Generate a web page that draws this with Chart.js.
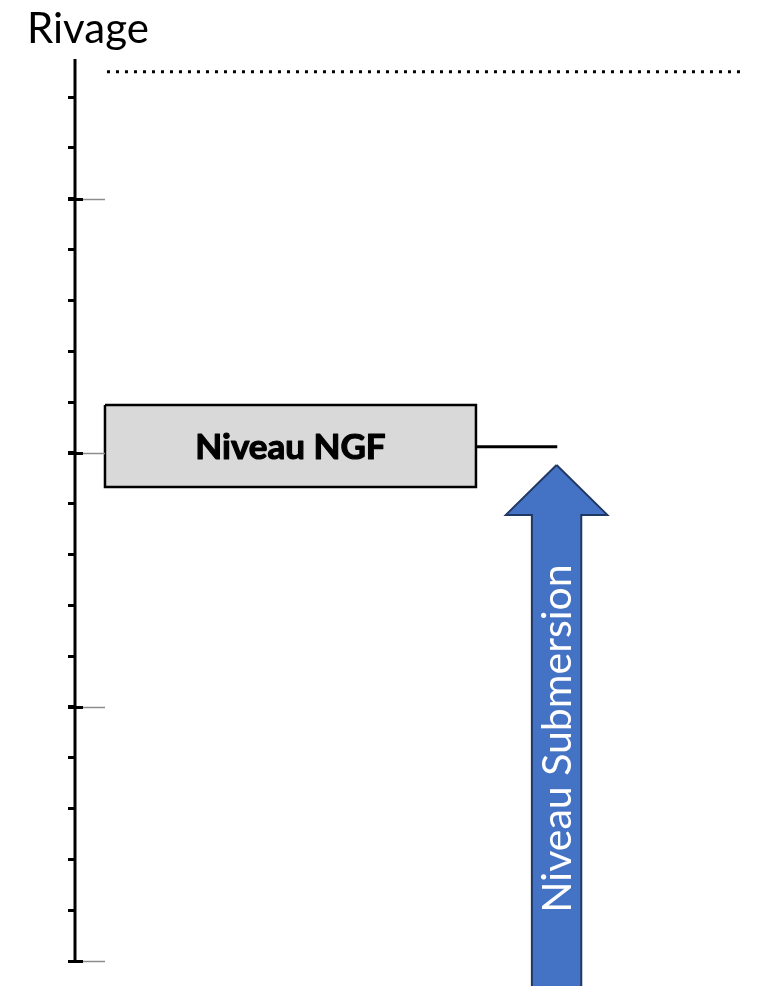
<!DOCTYPE html>
<html>
<head>
<meta charset="utf-8">
<script src="https://cdn.jsdelivr.net/npm/chart.js@4"></script>
<style>
  html, body { margin: 0; padding: 0; background: #ffffff; }
  #wrap { width: 761px; height: 986px; position: relative; }
</style>
</head>
<body>
<div id="wrap"><canvas id="c"></canvas></div>
<script>
// ---- data (axis units) ----
const yRange = [-0.49, 17.75];      // vertical level axis (view range)
const yAxisSpan = [0, 17.75];       // drawn part of the level axis
const xRange = [0, 100];            // horizontal schematic axis
const minorStep = 1;                // minor tick every unit
const majorEvery = 5;               // major tick every 5 units

const rivageX = [4.66, 97.67];      // dotted shore line
const rivageY = [17.5, 17.5];

const ngfBoxX = [4.37, 58.45, 58.45, 4.37, 4.37];
const ngfBoxY = [10.94, 10.94, 9.33, 9.33, 10.94];
const ngfLineX = [58.45, 70.3];
const ngfLineY = [10.12, 10.12];

const arrowX = [70.2, 77.6, 73.8, 73.8, 66.6, 66.6, 62.8, 70.2];
const arrowY = [9.76, 8.78, 8.78, -0.8, -0.8, 8.78, 8.78, 9.76];

const labels = {
  title: 'Rivage',
  box: 'Niveau NGF',
  arrow: 'Niveau Submersion'
};
const arrowLabelY = 4.38;

const pts = (xs, ys) => xs.map((x, i) => ({ x: x, y: ys[i] }));

const labelPlugin = {
  id: 'labelsAndMajorTicks',
  beforeDatasetsDraw(chart) {
    const ctx = chart.ctx;
    const ys = chart.scales.y;
    const axisX = chart.chartArea.left;
    ctx.save();
    ctx.strokeStyle = '#000000';
    ctx.lineWidth = 3;
    ctx.beginPath();
    ctx.moveTo(axisX, ys.getPixelForValue(yAxisSpan[1]));
    ctx.lineTo(axisX, ys.getPixelForValue(yAxisSpan[0]) + 1.5);
    ctx.stroke();
    ctx.restore();
  },
  afterDraw(chart) {
    const ctx = chart.ctx;
    const xs = chart.scales.x, ys = chart.scales.y;
    const axisX = chart.chartArea.left;
    ctx.save();
    // major ticks: black cross + grey extension to the box edge
    ys.ticks.forEach(t => {
      if (Math.round(t.value) % majorEvery === 0) {
        const py = Math.round(ys.getPixelForValue(t.value)) + 0.5;
        ctx.strokeStyle = '#8c8c8c';
        ctx.lineWidth = 1.5;
        ctx.beginPath();
        ctx.moveTo(axisX + 8, py);
        ctx.lineTo(xs.getPixelForValue(ngfBoxX[0]), py);
        ctx.stroke();
        ctx.strokeStyle = '#000000';
        ctx.lineWidth = 3;
        ctx.beginPath();
        ctx.moveTo(axisX - 7, py);
        ctx.lineTo(axisX + 8, py);
        ctx.stroke();
      }
    });
    // box label
    const bx = (xs.getPixelForValue(ngfBoxX[0]) + xs.getPixelForValue(ngfBoxX[1])) / 2;
    const by = (ys.getPixelForValue(ngfBoxY[0]) + ys.getPixelForValue(ngfBoxY[2])) / 2;
    const bSize = 35;
    ctx.font = 'bold ' + bSize + 'px Lato';
    ctx.fillStyle = '#000000';
    ctx.strokeStyle = '#000000';
    ctx.lineWidth = 1.2;
    ctx.lineJoin = 'round';
    ctx.textAlign = 'center';
    ctx.textBaseline = 'alphabetic';
    ctx.fillText(labels.box, bx, by + 0.36 * bSize);
    ctx.strokeText(labels.box, bx, by + 0.36 * bSize);
    // arrow label (rotated)
    const ax = xs.getPixelForValue(arrowX[0]);
    const ay = ys.getPixelForValue(arrowLabelY);
    const aSize = 41;
    ctx.translate(ax, ay);
    ctx.rotate(-Math.PI / 2);
    ctx.font = aSize + 'px Lato';
    ctx.fillStyle = '#ffffff';
    ctx.textAlign = 'center';
    ctx.fillText(labels.arrow, 0, 0.36 * aSize);
    ctx.restore();
  }
};

new Chart(document.getElementById('c'), {
  type: 'scatter',
  data: {
    datasets: [
      {
        data: pts(arrowX, arrowY),
        showLine: true, fill: 'shape',
        backgroundColor: '#4472c4', borderColor: '#203864', borderWidth: 2,
        borderJoinStyle: 'miter', pointRadius: 0, tension: 0, clip: false
      },
      {
        data: pts(ngfBoxX, ngfBoxY),
        showLine: true, fill: 'shape',
        backgroundColor: '#d9d9d9', borderColor: '#000000', borderWidth: 2.5,
        borderJoinStyle: 'miter', pointRadius: 0, tension: 0, clip: false
      },
      {
        data: pts(ngfLineX, ngfLineY),
        showLine: true, borderColor: '#000000', borderWidth: 3,
        pointRadius: 0, clip: false
      },
      {
        data: pts(rivageX, rivageY),
        showLine: true, borderColor: '#000000', borderWidth: 3,
        borderDash: [3, 6], borderCapStyle: 'butt', pointRadius: 0, clip: false
      }
    ]
  },
  options: {
    responsive: true,
    maintainAspectRatio: false,
    animation: false,
    layout: { padding: { left: 27, right: 0, top: 0, bottom: 0 } },
    plugins: {
      legend: { display: false },
      tooltip: { enabled: false },
      title: {
        display: true,
        text: labels.title,
        align: 'start',
        color: '#000000',
        font: { family: 'Lato', size: 42, weight: 'normal', lineHeight: 1.2 },
        padding: { top: 4, bottom: 4.6 }
      }
    },
    scales: {
      x: { type: 'linear', min: xRange[0], max: xRange[1], display: false },
      y: {
        type: 'linear', min: yRange[0], max: yRange[1],
        afterFit: s => { s.width = 48; },
        ticks: { display: false, stepSize: minorStep, includeBounds: false },
        grid: {
          drawOnChartArea: false, drawTicks: true, tickLength: 7,
          tickWidth: 3, tickColor: '#000000'
        },
        border: { display: false }
      }
    }
  },
  plugins: [labelPlugin]
});
</script>
</body>
</html>
